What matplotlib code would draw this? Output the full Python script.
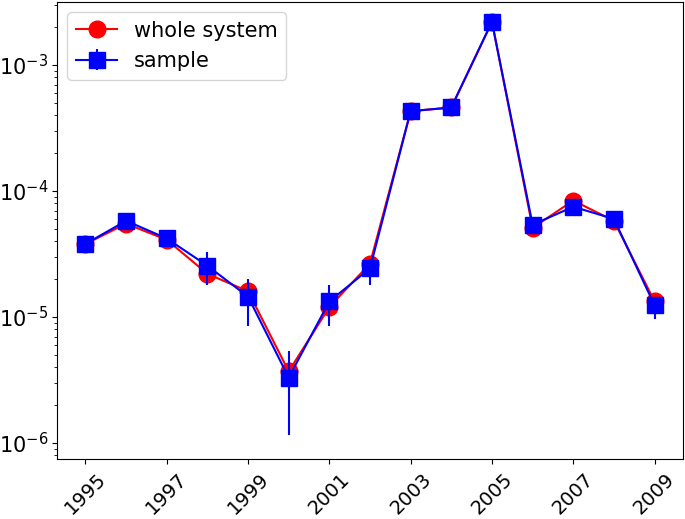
import numpy as np
import matplotlib
matplotlib.use("Agg")
import matplotlib.pyplot as plt

years = [1995, 1996, 1997, 1998, 1999, 2000, 2001, 2002,
         2003, 2004, 2005, 2006, 2007, 2008, 2009]

whole_system = [3.8e-5, 5.5e-5, 4.1e-5, 2.2e-5, 1.6e-5, 3.7e-6, 1.2e-5, 2.65e-5,
                4.3e-4, 4.6e-4, 2.2e-3, 5.1e-5, 8.4e-5, 5.8e-5, 1.33e-5]

sample = [3.8e-5, 5.8e-5, 4.2e-5, 2.55e-5, 1.45e-5, 3.3e-6, 1.33e-5, 2.43e-5,
          4.3e-4, 4.6e-4, 2.2e-3, 5.4e-5, 7.5e-5, 6.0e-5, 1.24e-5]

# lower / upper ends of the sample error bars
sample_low = [3.6e-5, 5.5e-5, 4.0e-5, 1.8e-5, 8.5e-6, 1.15e-6, 8.5e-6, 1.8e-5,
              4.2e-4, 4.5e-4, 2.15e-3, 4.6e-5, 7.2e-5, 5.6e-5, 9.6e-6]
sample_high = [4.0e-5, 6.1e-5, 4.4e-5, 3.3e-5, 2.0e-5, 5.4e-6, 1.8e-5, 2.9e-5,
               4.4e-4, 4.7e-4, 2.25e-3, 5.8e-5, 7.8e-5, 6.3e-5, 1.4e-5]

err = [np.array(sample) - np.array(sample_low),
       np.array(sample_high) - np.array(sample)]

fig = plt.figure(figsize=(6.85, 5.19), dpi=100)
ax = fig.add_axes([57 / 685, 60 / 519, 626 / 685, 457 / 519])

ax.plot(years, whole_system, color="red", marker="o", markersize=12,
        linewidth=1.5, label="whole system")
ax.errorbar(years, sample, yerr=err, color="blue", marker="s", markersize=12,
            linewidth=1.5, elinewidth=1.5, label="sample")

ax.set_yscale("log")
ax.set_ylim(10 ** -6.127, 10 ** -2.5)
ax.set_xticks(years[::2])
ax.set_xticklabels([str(y) for y in years[::2]], rotation=45)
ax.tick_params(axis="x", labelsize=14, pad=4)
ax.tick_params(axis="y", labelsize=15, pad=3)

ax.legend(loc="upper left", fontsize=15)

fig.savefig("out.png", dpi=100)
